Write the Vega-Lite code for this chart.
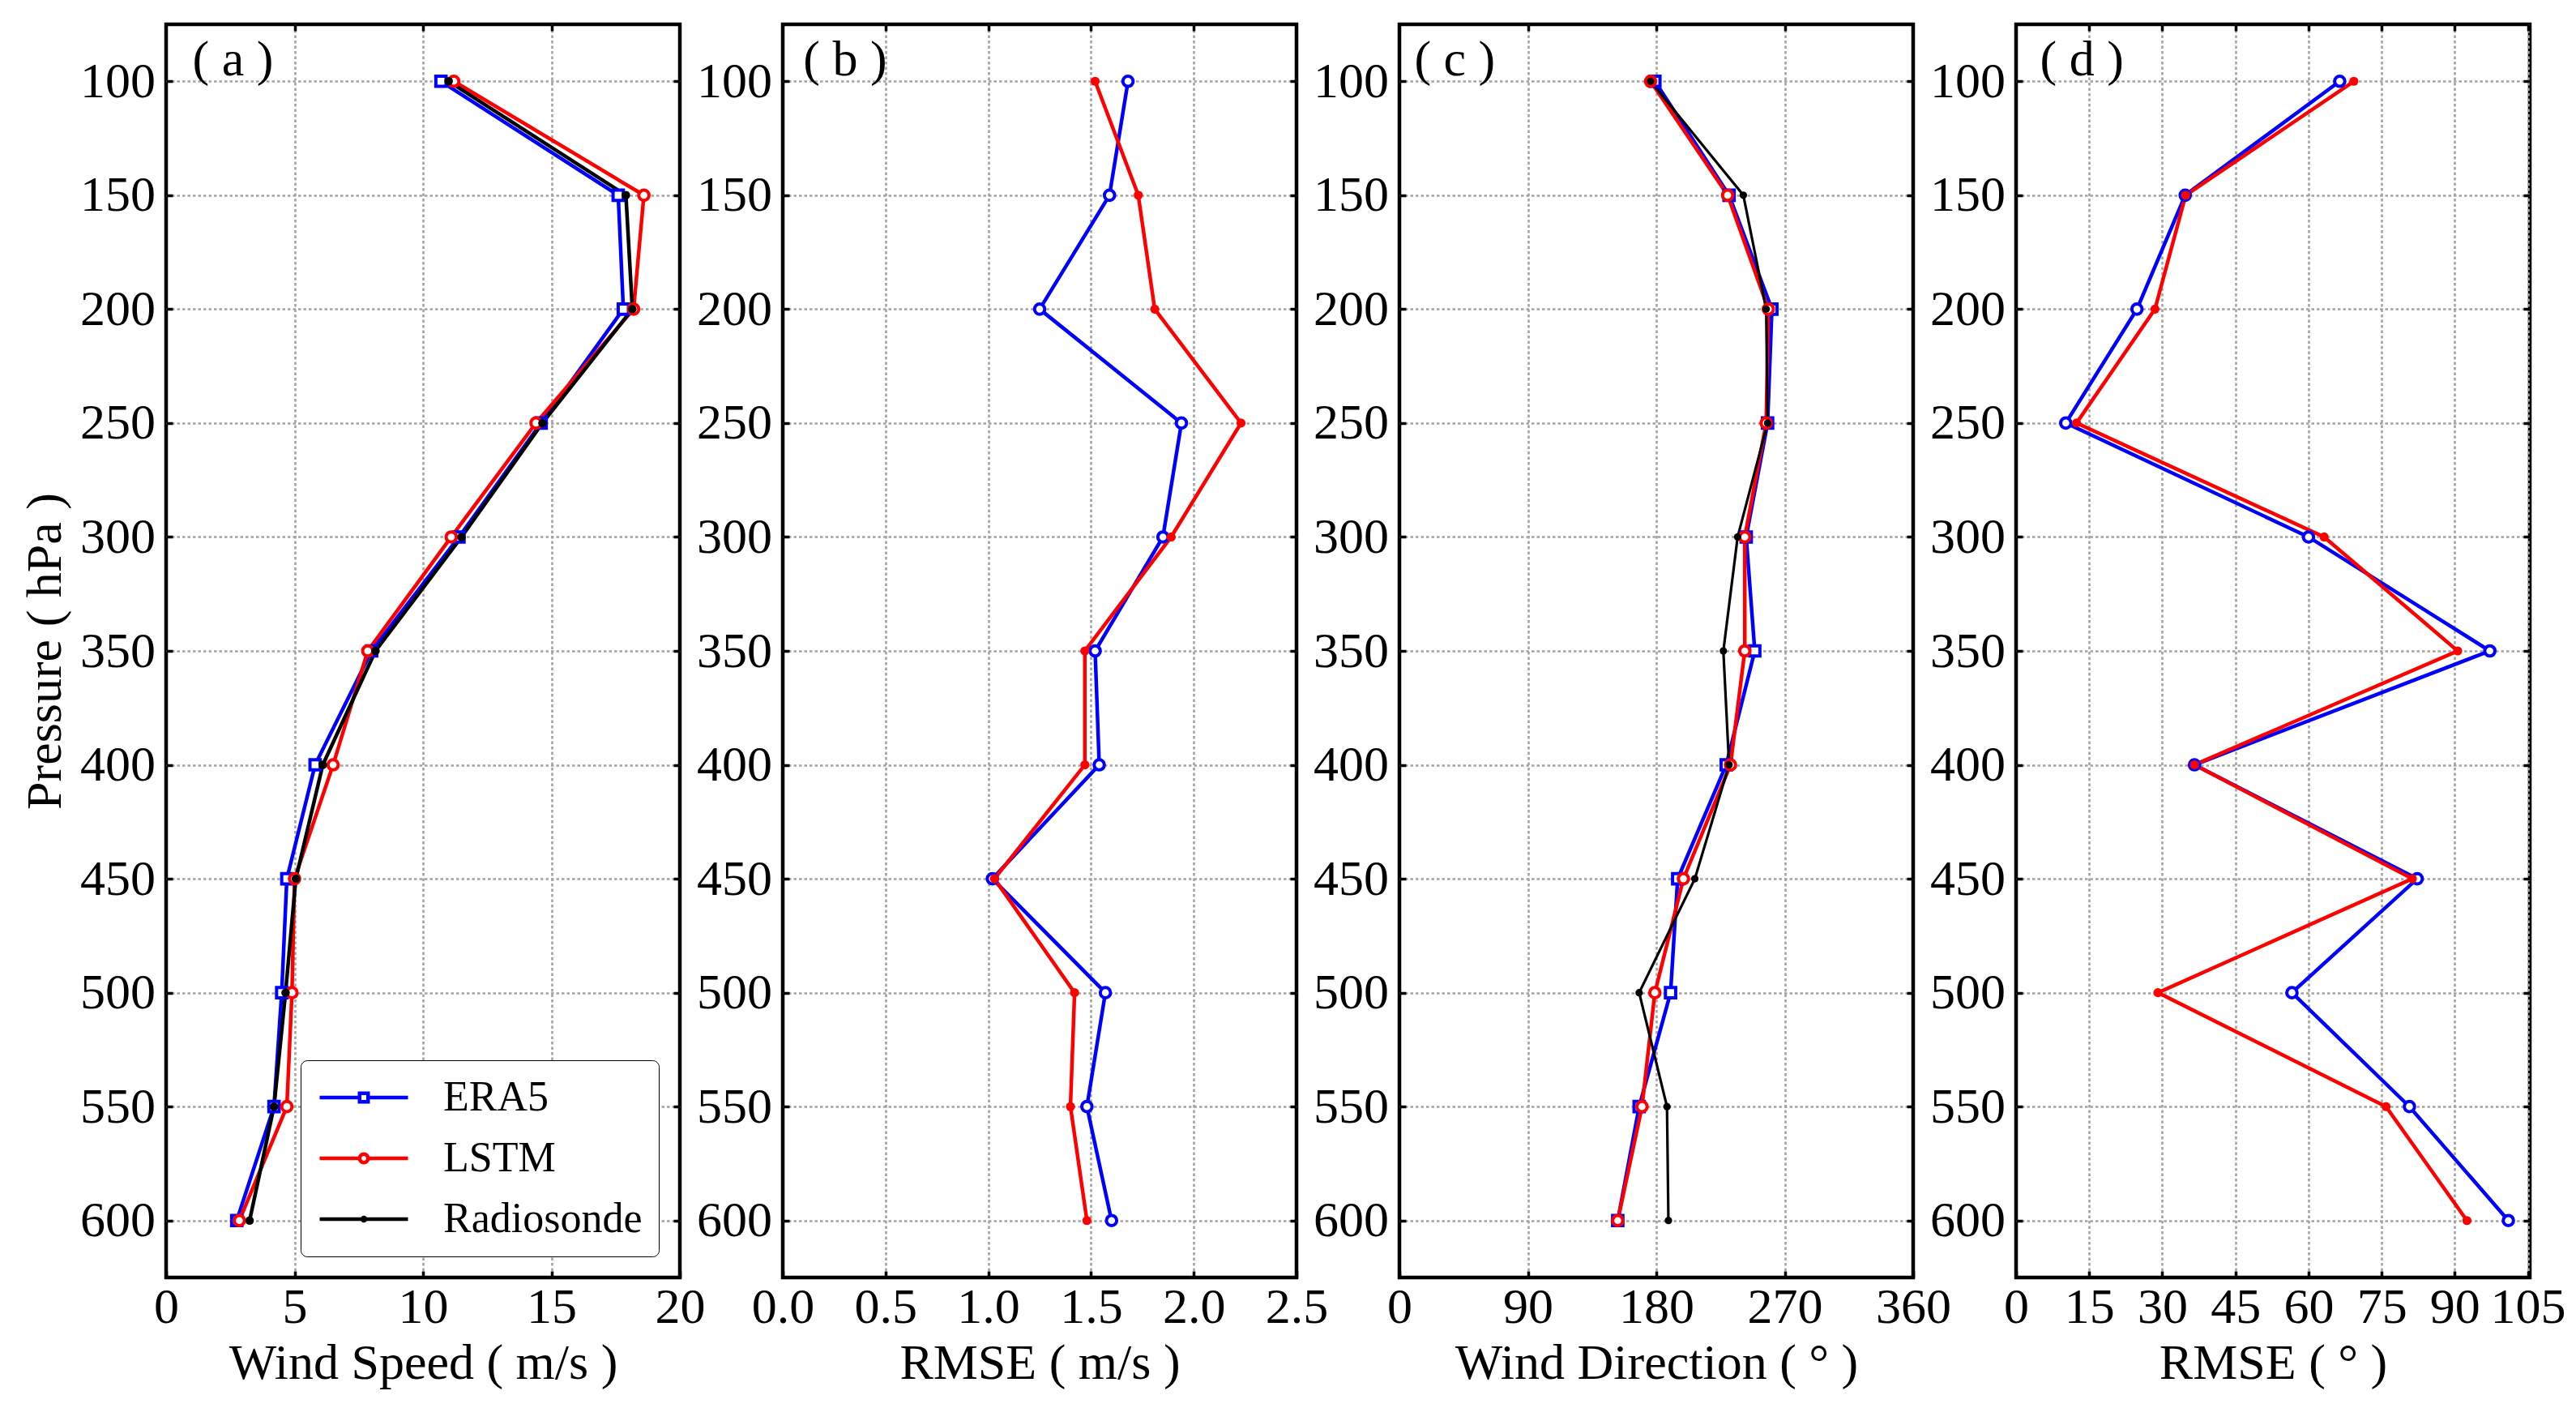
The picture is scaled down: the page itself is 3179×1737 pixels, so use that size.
{
  "$schema": "https://vega.github.io/schema/vega-lite/v6.json",
  "background": "white",
  "padding": {"left": 22, "top": 26, "right": 10, "bottom": 10},
  "spacing": 127,
  "bounds": "flush",
  "resolve": {
    "scale": {"color": "independent", "shape": "independent"},
    "legend": {"color": "independent", "shape": "independent"}
  },
  "config": {
    "font": "Liberation Serif",
    "view": {"stroke": "black", "strokeWidth": 4.5},
    "axis": {
      "domain": false,
      "tickColor": "black",
      "tickWidth": 3.5,
      "tickSize": -8,
      "gridColor": "#a3a3a3",
      "gridWidth": 2.6,
      "gridDash": [3.5, 3],
      "labelFont": "Liberation Serif",
      "labelFontSize": 62,
      "labelColor": "black",
      "labelFlush": false,
      "labelOverlap": false,
      "titleFont": "Liberation Serif",
      "titleFontSize": 62,
      "titleFontWeight": "normal",
      "titleColor": "black"
    },
    "axisX": {"labelPadding": 14.6, "titlePadding": 8},
    "axisY": {"labelPadding": 21.6, "titlePadding": 11},
    "legend": {"labelFont": "Liberation Serif"},
    "text": {"font": "Liberation Serif", "fontSize": 62, "color": "black"}
  },
  "datasets": {
    "profiles": [
      {"panel": "a", "series": "ERA5", "p": 100, "v": 10.7},
      {"panel": "a", "series": "ERA5", "p": 150, "v": 17.6},
      {"panel": "a", "series": "ERA5", "p": 200, "v": 17.8},
      {"panel": "a", "series": "ERA5", "p": 250, "v": 14.6},
      {"panel": "a", "series": "ERA5", "p": 300, "v": 11.4},
      {"panel": "a", "series": "ERA5", "p": 350, "v": 8.0},
      {"panel": "a", "series": "ERA5", "p": 400, "v": 5.8},
      {"panel": "a", "series": "ERA5", "p": 450, "v": 4.7},
      {"panel": "a", "series": "ERA5", "p": 500, "v": 4.5},
      {"panel": "a", "series": "ERA5", "p": 550, "v": 4.2},
      {"panel": "a", "series": "ERA5", "p": 600, "v": 2.75},
      {"panel": "a", "series": "LSTM", "p": 100, "v": 11.2},
      {"panel": "a", "series": "LSTM", "p": 150, "v": 18.6},
      {"panel": "a", "series": "LSTM", "p": 200, "v": 18.2},
      {"panel": "a", "series": "LSTM", "p": 250, "v": 14.4},
      {"panel": "a", "series": "LSTM", "p": 300, "v": 11.1},
      {"panel": "a", "series": "LSTM", "p": 350, "v": 7.85},
      {"panel": "a", "series": "LSTM", "p": 400, "v": 6.5},
      {"panel": "a", "series": "LSTM", "p": 450, "v": 5.0},
      {"panel": "a", "series": "LSTM", "p": 500, "v": 4.9},
      {"panel": "a", "series": "LSTM", "p": 550, "v": 4.7},
      {"panel": "a", "series": "LSTM", "p": 600, "v": 2.85},
      {"panel": "a", "series": "Radiosonde", "p": 100, "v": 11.0},
      {"panel": "a", "series": "Radiosonde", "p": 150, "v": 17.9},
      {"panel": "a", "series": "Radiosonde", "p": 200, "v": 18.15},
      {"panel": "a", "series": "Radiosonde", "p": 250, "v": 14.65},
      {"panel": "a", "series": "Radiosonde", "p": 300, "v": 11.5},
      {"panel": "a", "series": "Radiosonde", "p": 350, "v": 8.15},
      {"panel": "a", "series": "Radiosonde", "p": 400, "v": 6.1},
      {"panel": "a", "series": "Radiosonde", "p": 450, "v": 5.05},
      {"panel": "a", "series": "Radiosonde", "p": 500, "v": 4.65},
      {"panel": "a", "series": "Radiosonde", "p": 550, "v": 4.2},
      {"panel": "a", "series": "Radiosonde", "p": 600, "v": 3.25},
      {"panel": "b", "series": "ERA5", "p": 100, "v": 1.68},
      {"panel": "b", "series": "ERA5", "p": 150, "v": 1.59},
      {"panel": "b", "series": "ERA5", "p": 200, "v": 1.25},
      {"panel": "b", "series": "ERA5", "p": 250, "v": 1.94},
      {"panel": "b", "series": "ERA5", "p": 300, "v": 1.85},
      {"panel": "b", "series": "ERA5", "p": 350, "v": 1.52},
      {"panel": "b", "series": "ERA5", "p": 400, "v": 1.54},
      {"panel": "b", "series": "ERA5", "p": 450, "v": 1.02},
      {"panel": "b", "series": "ERA5", "p": 500, "v": 1.57},
      {"panel": "b", "series": "ERA5", "p": 550, "v": 1.48},
      {"panel": "b", "series": "ERA5", "p": 600, "v": 1.6},
      {"panel": "b", "series": "LSTM", "p": 100, "v": 1.52},
      {"panel": "b", "series": "LSTM", "p": 150, "v": 1.73},
      {"panel": "b", "series": "LSTM", "p": 200, "v": 1.81},
      {"panel": "b", "series": "LSTM", "p": 250, "v": 2.23},
      {"panel": "b", "series": "LSTM", "p": 300, "v": 1.89},
      {"panel": "b", "series": "LSTM", "p": 350, "v": 1.47},
      {"panel": "b", "series": "LSTM", "p": 400, "v": 1.47},
      {"panel": "b", "series": "LSTM", "p": 450, "v": 1.03},
      {"panel": "b", "series": "LSTM", "p": 500, "v": 1.42},
      {"panel": "b", "series": "LSTM", "p": 550, "v": 1.4},
      {"panel": "b", "series": "LSTM", "p": 600, "v": 1.48},
      {"panel": "c", "series": "ERA5", "p": 100, "v": 179},
      {"panel": "c", "series": "ERA5", "p": 150, "v": 231},
      {"panel": "c", "series": "ERA5", "p": 200, "v": 261},
      {"panel": "c", "series": "ERA5", "p": 250, "v": 258},
      {"panel": "c", "series": "ERA5", "p": 300, "v": 243},
      {"panel": "c", "series": "ERA5", "p": 350, "v": 249},
      {"panel": "c", "series": "ERA5", "p": 400, "v": 229},
      {"panel": "c", "series": "ERA5", "p": 450, "v": 195},
      {"panel": "c", "series": "ERA5", "p": 500, "v": 190},
      {"panel": "c", "series": "ERA5", "p": 550, "v": 168},
      {"panel": "c", "series": "ERA5", "p": 600, "v": 153},
      {"panel": "c", "series": "LSTM", "p": 100, "v": 176},
      {"panel": "c", "series": "LSTM", "p": 150, "v": 230},
      {"panel": "c", "series": "LSTM", "p": 200, "v": 258.5},
      {"panel": "c", "series": "LSTM", "p": 250, "v": 257},
      {"panel": "c", "series": "LSTM", "p": 300, "v": 242},
      {"panel": "c", "series": "LSTM", "p": 350, "v": 242},
      {"panel": "c", "series": "LSTM", "p": 400, "v": 232},
      {"panel": "c", "series": "LSTM", "p": 450, "v": 199},
      {"panel": "c", "series": "LSTM", "p": 500, "v": 179},
      {"panel": "c", "series": "LSTM", "p": 550, "v": 170},
      {"panel": "c", "series": "LSTM", "p": 600, "v": 153},
      {"panel": "c", "series": "Radiosonde", "p": 100, "v": 176},
      {"panel": "c", "series": "Radiosonde", "p": 150, "v": 241},
      {"panel": "c", "series": "Radiosonde", "p": 200, "v": 257},
      {"panel": "c", "series": "Radiosonde", "p": 250, "v": 258},
      {"panel": "c", "series": "Radiosonde", "p": 300, "v": 237},
      {"panel": "c", "series": "Radiosonde", "p": 350, "v": 227},
      {"panel": "c", "series": "Radiosonde", "p": 400, "v": 231},
      {"panel": "c", "series": "Radiosonde", "p": 450, "v": 207},
      {"panel": "c", "series": "Radiosonde", "p": 500, "v": 168},
      {"panel": "c", "series": "Radiosonde", "p": 550, "v": 187.5},
      {"panel": "c", "series": "Radiosonde", "p": 600, "v": 188.5},
      {"panel": "d", "series": "ERA5", "p": 100, "v": 66.4},
      {"panel": "d", "series": "ERA5", "p": 150, "v": 34.7},
      {"panel": "d", "series": "ERA5", "p": 200, "v": 24.8},
      {"panel": "d", "series": "ERA5", "p": 250, "v": 10.2},
      {"panel": "d", "series": "ERA5", "p": 300, "v": 60.0},
      {"panel": "d", "series": "ERA5", "p": 350, "v": 97.2},
      {"panel": "d", "series": "ERA5", "p": 400, "v": 36.6},
      {"panel": "d", "series": "ERA5", "p": 450, "v": 82.3},
      {"panel": "d", "series": "ERA5", "p": 500, "v": 56.6},
      {"panel": "d", "series": "ERA5", "p": 550, "v": 80.7},
      {"panel": "d", "series": "ERA5", "p": 600, "v": 101.0},
      {"panel": "d", "series": "LSTM", "p": 100, "v": 69.3},
      {"panel": "d", "series": "LSTM", "p": 150, "v": 34.8},
      {"panel": "d", "series": "LSTM", "p": 200, "v": 28.5},
      {"panel": "d", "series": "LSTM", "p": 250, "v": 12.4},
      {"panel": "d", "series": "LSTM", "p": 300, "v": 63.2},
      {"panel": "d", "series": "LSTM", "p": 350, "v": 90.6},
      {"panel": "d", "series": "LSTM", "p": 400, "v": 36.6},
      {"panel": "d", "series": "LSTM", "p": 450, "v": 81.3},
      {"panel": "d", "series": "LSTM", "p": 500, "v": 29.1},
      {"panel": "d", "series": "LSTM", "p": 550, "v": 75.9},
      {"panel": "d", "series": "LSTM", "p": 600, "v": 92.5}
    ]
  },
  "hconcat": [
    {
      "width": 634,
      "height": 1546,
      "data": {"name": "profiles"},
      "resolve": {"axis": {"x": "independent", "y": "independent"}},
      "layer": [
        {
          "transform": [{"filter": "datum.panel === 'a' && datum.series === 'ERA5'"}],
          "mark": {"type": "line", "color": "#0000ff", "strokeWidth": 4.5},
          "encoding": {
            "x": {"field": "v", "type": "quantitative", "scale": {"domain": [0, 20], "nice": false, "zero": false},
                  "axis": {"orient": "bottom", "values": [0, 5, 10, 15, 20], "grid": false, "title": "Wind Speed ( m/s )"}},
            "y": {"field": "p", "type": "quantitative", "scale": {"domain": [75, 625], "reverse": true, "nice": false, "zero": false},
                  "axis": {"orient": "left", "values": [100, 150, 200, 250, 300, 350, 400, 450, 500, 550, 600], "grid": true, "title": "Pressure ( hPa )"}},
            "order": {"field": "p"}
          }
        },
        {
          "transform": [{"filter": "datum.panel === 'a' && datum.series === 'LSTM'"}],
          "mark": {"type": "line", "color": "#ff0000", "strokeWidth": 4.5},
          "encoding": {
            "x": {"field": "v", "type": "quantitative", "scale": {"domain": [0, 20], "nice": false, "zero": false},
                  "axis": {"orient": "top", "values": [5, 10, 15], "grid": true, "labels": false, "title": null}},
            "y": {"field": "p", "type": "quantitative", "scale": {"domain": [75, 625], "reverse": true, "nice": false, "zero": false},
                  "axis": {"orient": "right", "values": [100, 150, 200, 250, 300, 350, 400, 450, 500, 550, 600], "grid": false, "labels": false, "title": null}},
            "order": {"field": "p"}
          }
        },
        {
          "transform": [{"filter": "datum.panel === 'a' && datum.series === 'Radiosonde'"}],
          "mark": {"type": "line", "color": "#000000", "strokeWidth": 4.5},
          "encoding": {
            "x": {"field": "v", "type": "quantitative", "axis": null},
            "y": {"field": "p", "type": "quantitative", "axis": null},
            "order": {"field": "p"}
          }
        },
        {
          "transform": [{"filter": "datum.panel === 'a' && datum.series === 'ERA5'"}],
          "mark": {"type": "point", "shape": "square", "size": 160, "filled": false, "fill": "white", "stroke": "#0000ff", "strokeWidth": 4, "opacity": 1},
          "encoding": {
            "x": {"field": "v", "type": "quantitative", "axis": null},
            "y": {"field": "p", "type": "quantitative", "axis": null}
          }
        },
        {
          "transform": [{"filter": "datum.panel === 'a' && datum.series === 'LSTM'"}],
          "mark": {"type": "point", "shape": "circle", "size": 160, "filled": false, "fill": "white", "stroke": "#ff0000", "strokeWidth": 4, "opacity": 1},
          "encoding": {
            "x": {"field": "v", "type": "quantitative", "axis": null},
            "y": {"field": "p", "type": "quantitative", "axis": null}
          }
        },
        {
          "transform": [{"filter": "datum.panel === 'a' && datum.series === 'Radiosonde'"}],
          "mark": {"type": "point", "shape": "circle", "size": 110, "filled": true, "color": "#000000", "opacity": 1},
          "encoding": {
            "x": {"field": "v", "type": "quantitative", "axis": null},
            "y": {"field": "p", "type": "quantitative", "axis": null}
          }
        },
        {
          "transform": [{"filter": "datum.panel === 'a'"}],
          "mark": {"type": "point", "filled": false, "opacity": 0},
          "encoding": {
            "x": {"field": "v", "type": "quantitative", "axis": null},
            "y": {"field": "p", "type": "quantitative", "axis": null},
            "shape": {
              "field": "series", "type": "nominal",
              "scale": {
                "domain": ["ERA5", "LSTM", "Radiosonde"],
                "range": [
                  "M-2.295,0H-0.22M0.22,0H2.295M-0.22,-0.22H0.22V0.22H-0.22Z",
                  "M-2.295,0H-0.22M0.22,0H2.295M0.22,0A0.22,0.22,0,1,1,-0.22,0A0.22,0.22,0,1,1,0.22,0Z",
                  "M-2.295,0H2.295M0.084,0A0.084,0.084,0,1,1,-0.084,0A0.084,0.084,0,1,1,0.084,0Z"
                ]
              },
              "legend": {
                "title": null, "orient": "bottom-right", "offset": 26, "padding": 20,
                "strokeColor": "black", "fillColor": "white", "cornerRadius": 8,
                "labelFont": "Liberation Serif", "labelFontSize": 52, "labelColor": "black", "labelLimit": 500,
                "symbolSize": 2256, "symbolStrokeWidth": 4.5, "symbolOffset": 32, "labelOffset": 72, "rowPadding": 23,
                "encode": {"legend": {"update": {"strokeWidth": {"value": 2.5}}}, "symbols": {"update": {"opacity": {"value": 1}}}}
              }
            },
            "color": {
              "field": "series", "type": "nominal",
              "scale": {"domain": ["ERA5", "LSTM", "Radiosonde"], "range": ["#0000ff", "#ff0000", "#000000"]},
              "legend": {
                "title": null, "orient": "bottom-right", "offset": 26, "padding": 20,
                "strokeColor": "black", "fillColor": "white", "cornerRadius": 8,
                "labelFont": "Liberation Serif", "labelFontSize": 52, "labelColor": "black", "labelLimit": 500,
                "symbolSize": 2256, "symbolStrokeWidth": 4.5, "symbolOffset": 32, "labelOffset": 72, "rowPadding": 23,
                "encode": {"legend": {"update": {"strokeWidth": {"value": 2.5}}}, "symbols": {"update": {"opacity": {"value": 1}}}}
              }
            }
          }
        },
        {
          "data": {"values": [{"tag": "( a )"}]},
          "mark": {"type": "text", "align": "left", "baseline": "alphabetic"},
          "encoding": {
            "text": {"field": "tag"},
            "x": {"datum": 1.025, "type": "quantitative", "axis": null},
            "y": {"datum": 97.5, "type": "quantitative", "axis": null}
          }
        }
      ]
    },
    {
      "width": 634,
      "height": 1546,
      "data": {"name": "profiles"},
      "resolve": {"axis": {"x": "independent", "y": "independent"}},
      "layer": [
        {
          "transform": [{"filter": "datum.panel === 'b' && datum.series === 'ERA5'"}],
          "mark": {"type": "line", "color": "#0000ff", "strokeWidth": 4.5},
          "encoding": {
            "x": {"field": "v", "type": "quantitative", "scale": {"domain": [0, 2.5], "nice": false, "zero": false},
                  "axis": {"orient": "bottom", "values": [0, 0.5, 1, 1.5, 2, 2.5], "format": ".1f", "grid": false, "title": "RMSE ( m/s )"}},
            "y": {"field": "p", "type": "quantitative", "scale": {"domain": [75, 625], "reverse": true, "nice": false, "zero": false},
                  "axis": {"orient": "left", "values": [100, 150, 200, 250, 300, 350, 400, 450, 500, 550, 600], "grid": true, "title": null}},
            "order": {"field": "p"}
          }
        },
        {
          "transform": [{"filter": "datum.panel === 'b' && datum.series === 'LSTM'"}],
          "mark": {"type": "line", "color": "#ff0000", "strokeWidth": 4.5},
          "encoding": {
            "x": {"field": "v", "type": "quantitative", "scale": {"domain": [0, 2.5], "nice": false, "zero": false},
                  "axis": {"orient": "top", "values": [0.5, 1, 1.5, 2], "grid": true, "labels": false, "title": null}},
            "y": {"field": "p", "type": "quantitative", "scale": {"domain": [75, 625], "reverse": true, "nice": false, "zero": false},
                  "axis": {"orient": "right", "values": [100, 150, 200, 250, 300, 350, 400, 450, 500, 550, 600], "grid": false, "labels": false, "title": null}},
            "order": {"field": "p"}
          }
        },
        {
          "transform": [{"filter": "datum.panel === 'b' && datum.series === 'ERA5'"}],
          "mark": {"type": "point", "shape": "circle", "size": 160, "filled": false, "fill": "white", "stroke": "#0000ff", "strokeWidth": 4, "opacity": 1},
          "encoding": {
            "x": {"field": "v", "type": "quantitative", "axis": null},
            "y": {"field": "p", "type": "quantitative", "axis": null}
          }
        },
        {
          "transform": [{"filter": "datum.panel === 'b' && datum.series === 'LSTM'"}],
          "mark": {"type": "point", "shape": "circle", "size": 125, "filled": true, "color": "#ff0000", "opacity": 1},
          "encoding": {
            "x": {"field": "v", "type": "quantitative", "axis": null},
            "y": {"field": "p", "type": "quantitative", "axis": null}
          }
        },
        {
          "data": {"values": [{"tag": "( b )"}]},
          "mark": {"type": "text", "align": "left", "baseline": "alphabetic"},
          "encoding": {
            "text": {"field": "tag"},
            "x": {"datum": 0.1, "type": "quantitative", "axis": null},
            "y": {"datum": 97.5, "type": "quantitative", "axis": null}
          }
        }
      ]
    },
    {
      "width": 634,
      "height": 1546,
      "data": {"name": "profiles"},
      "resolve": {"axis": {"x": "independent", "y": "independent"}},
      "layer": [
        {
          "transform": [{"filter": "datum.panel === 'c' && datum.series === 'ERA5'"}],
          "mark": {"type": "line", "color": "#0000ff", "strokeWidth": 4.5},
          "encoding": {
            "x": {"field": "v", "type": "quantitative", "scale": {"domain": [0, 360], "nice": false, "zero": false},
                  "axis": {"orient": "bottom", "values": [0, 90, 180, 270, 360], "grid": false, "title": "Wind Direction ( ° )"}},
            "y": {"field": "p", "type": "quantitative", "scale": {"domain": [75, 625], "reverse": true, "nice": false, "zero": false},
                  "axis": {"orient": "left", "values": [100, 150, 200, 250, 300, 350, 400, 450, 500, 550, 600], "grid": true, "title": null}},
            "order": {"field": "p"}
          }
        },
        {
          "transform": [{"filter": "datum.panel === 'c' && datum.series === 'LSTM'"}],
          "mark": {"type": "line", "color": "#ff0000", "strokeWidth": 4.5},
          "encoding": {
            "x": {"field": "v", "type": "quantitative", "scale": {"domain": [0, 360], "nice": false, "zero": false},
                  "axis": {"orient": "top", "values": [90, 180, 270], "grid": true, "labels": false, "title": null}},
            "y": {"field": "p", "type": "quantitative", "scale": {"domain": [75, 625], "reverse": true, "nice": false, "zero": false},
                  "axis": {"orient": "right", "values": [100, 150, 200, 250, 300, 350, 400, 450, 500, 550, 600], "grid": false, "labels": false, "title": null}},
            "order": {"field": "p"}
          }
        },
        {
          "transform": [{"filter": "datum.panel === 'c' && datum.series === 'Radiosonde'"}],
          "mark": {"type": "line", "color": "#000000", "strokeWidth": 3.2},
          "encoding": {
            "x": {"field": "v", "type": "quantitative", "axis": null},
            "y": {"field": "p", "type": "quantitative", "axis": null},
            "order": {"field": "p"}
          }
        },
        {
          "transform": [{"filter": "datum.panel === 'c' && datum.series === 'ERA5'"}],
          "mark": {"type": "point", "shape": "square", "size": 160, "filled": false, "fill": "white", "stroke": "#0000ff", "strokeWidth": 4, "opacity": 1},
          "encoding": {
            "x": {"field": "v", "type": "quantitative", "axis": null},
            "y": {"field": "p", "type": "quantitative", "axis": null}
          }
        },
        {
          "transform": [{"filter": "datum.panel === 'c' && datum.series === 'LSTM'"}],
          "mark": {"type": "point", "shape": "circle", "size": 160, "filled": false, "fill": "white", "stroke": "#ff0000", "strokeWidth": 4, "opacity": 1},
          "encoding": {
            "x": {"field": "v", "type": "quantitative", "axis": null},
            "y": {"field": "p", "type": "quantitative", "axis": null}
          }
        },
        {
          "transform": [{"filter": "datum.panel === 'c' && datum.series === 'Radiosonde'"}],
          "mark": {"type": "point", "shape": "circle", "size": 85, "filled": true, "color": "#000000", "opacity": 1},
          "encoding": {
            "x": {"field": "v", "type": "quantitative", "axis": null},
            "y": {"field": "p", "type": "quantitative", "axis": null}
          }
        },
        {
          "data": {"values": [{"tag": "( c )"}]},
          "mark": {"type": "text", "align": "left", "baseline": "alphabetic"},
          "encoding": {
            "text": {"field": "tag"},
            "x": {"datum": 10.45, "type": "quantitative", "axis": null},
            "y": {"datum": 97.5, "type": "quantitative", "axis": null}
          }
        }
      ]
    },
    {
      "width": 634,
      "height": 1546,
      "data": {"name": "profiles"},
      "resolve": {"axis": {"x": "independent", "y": "independent"}},
      "layer": [
        {
          "transform": [{"filter": "datum.panel === 'd' && datum.series === 'ERA5'"}],
          "mark": {"type": "line", "color": "#0000ff", "strokeWidth": 4.5},
          "encoding": {
            "x": {"field": "v", "type": "quantitative", "scale": {"domain": [0, 105.4], "nice": false, "zero": false},
                  "axis": {"orient": "bottom", "values": [0, 15, 30, 45, 60, 75, 90, 105], "grid": false, "title": "RMSE ( ° )"}},
            "y": {"field": "p", "type": "quantitative", "scale": {"domain": [75, 625], "reverse": true, "nice": false, "zero": false},
                  "axis": {"orient": "left", "values": [100, 150, 200, 250, 300, 350, 400, 450, 500, 550, 600], "grid": true, "title": null}},
            "order": {"field": "p"}
          }
        },
        {
          "transform": [{"filter": "datum.panel === 'd' && datum.series === 'LSTM'"}],
          "mark": {"type": "line", "color": "#ff0000", "strokeWidth": 4.5},
          "encoding": {
            "x": {"field": "v", "type": "quantitative", "scale": {"domain": [0, 105.4], "nice": false, "zero": false},
                  "axis": {"orient": "top", "values": [15, 30, 45, 60, 75, 90, 105], "grid": true, "labels": false, "title": null}},
            "y": {"field": "p", "type": "quantitative", "scale": {"domain": [75, 625], "reverse": true, "nice": false, "zero": false},
                  "axis": {"orient": "right", "values": [100, 150, 200, 250, 300, 350, 400, 450, 500, 550, 600], "grid": false, "labels": false, "title": null}},
            "order": {"field": "p"}
          }
        },
        {
          "transform": [{"filter": "datum.panel === 'd' && datum.series === 'ERA5'"}],
          "mark": {"type": "point", "shape": "circle", "size": 160, "filled": false, "fill": "white", "stroke": "#0000ff", "strokeWidth": 4, "opacity": 1},
          "encoding": {
            "x": {"field": "v", "type": "quantitative", "axis": null},
            "y": {"field": "p", "type": "quantitative", "axis": null}
          }
        },
        {
          "transform": [{"filter": "datum.panel === 'd' && datum.series === 'LSTM'"}],
          "mark": {"type": "point", "shape": "circle", "size": 125, "filled": true, "color": "#ff0000", "opacity": 1},
          "encoding": {
            "x": {"field": "v", "type": "quantitative", "axis": null},
            "y": {"field": "p", "type": "quantitative", "axis": null}
          }
        },
        {
          "data": {"values": [{"tag": "( d )"}]},
          "mark": {"type": "text", "align": "left", "baseline": "alphabetic"},
          "encoding": {
            "text": {"field": "tag"},
            "x": {"datum": 4.92, "type": "quantitative", "axis": null},
            "y": {"datum": 97.5, "type": "quantitative", "axis": null}
          }
        }
      ]
    }
  ]
}
